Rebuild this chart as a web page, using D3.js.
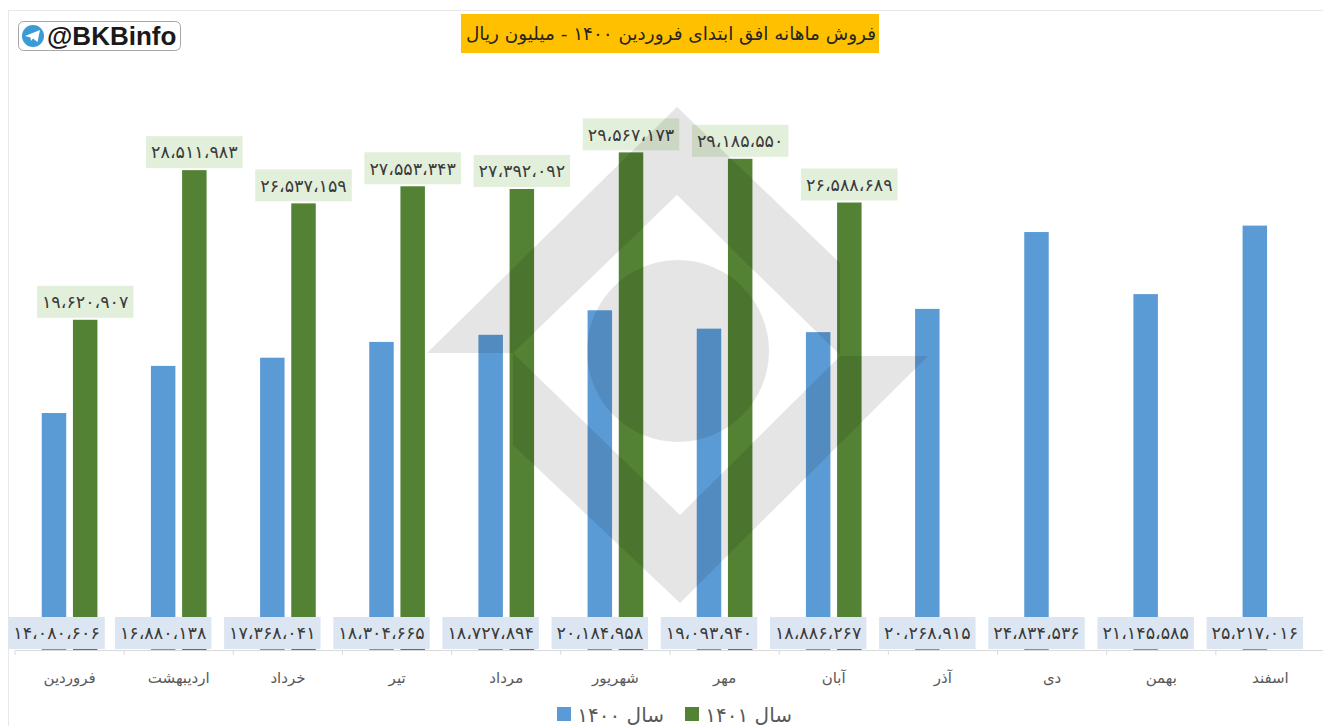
<!DOCTYPE html>
<html>
<head>
<meta charset="utf-8">
<script src="https://cdn.jsdelivr.net/npm/d3@7"></script>
<style>
  body { margin: 0; background: #fff; }
  svg { display: block; }
  text { font-family: "DejaVu Sans", sans-serif; }
</style>
</head>
<body>
<div id="chart"></div>
<script>
var svgWidth = 1323;
var svgHeight = 726;

var months = ["فروردین", "اردیبهشت", "خرداد", "تیر", "مرداد", "شهریور", "مهر", "آبان", "آذر", "دی", "بهمن", "اسفند"];
var sales1400 = [14080606, 16880138, 17368041, 18304665, 18727894, 20184958, 19093940, 18886267, 20268915, 24834536, 21145585, 25217016];
var sales1401 = [19620907, 28511983, 26537159, 27553343, 27392092, 29567173, 29185550, 26588689];
var seriesNames = ["سال ۱۴۰۰", "سال ۱۴۰۱"];
var seriesColors = ["#5b9bd5", "#548235"];
var labelColors = ["#dce6f2", "#e2efda"];
var title = "فروش ماهانه افق ابتدای فروردین ۱۴۰۰ - میلیون ریال";

var margin = { top: 10, right: -2, bottom: 76, left: 15 };
var baseline = svgHeight - margin.bottom;

var svg = d3.select("#chart").append("svg")
  .attr("width", svgWidth)
  .attr("height", svgHeight);

// persian digits with thousand separators
function faNumber(v) {
  return d3.format(",")(v).replace(/,/g, "\u060C").replace(/\d/g, d => "۰۱۲۳۴۵۶۷۸۹"[+d]);
}

var x0 = d3.scaleBand()
  .domain(months)
  .range([margin.left, svgWidth - margin.right])
  .paddingInner(0.49)
  .paddingOuter(0.245);

var x1 = d3.scaleBand()
  .domain([0, 1])
  .range([0, x0.bandwidth()])
  .paddingInner(0.215);

var y = d3.scaleLinear()
  .domain([0, 38000000])
  .range([baseline, baseline - 38 * 16.83]);

// frame
svg.append("path")
  .attr("d", `M8.5,${svgHeight} V10.5 H${svgWidth}`)
  .attr("fill", "none")
  .attr("stroke", "#e8e8e8");

// axis
var xAxis = svg.append("g")
  .attr("transform", `translate(0, ${baseline})`)
  .call(d3.axisBottom(x0).tickSize(0).tickPadding(22));
xAxis.select(".domain").attr("stroke", "#d9d9d9");
xAxis.selectAll("text")
  .attr("font-size", 15)
  .attr("fill", "#595959")
  .style("direction", "rtl");

svg.append("g")
  .selectAll("line")
  .data(d3.range(months.length + 1))
  .enter()
  .append("line")
  .attr("x1", d => margin.left + d * x0.step())
  .attr("x2", d => margin.left + d * x0.step())
  .attr("y1", baseline)
  .attr("y2", baseline + 5)
  .attr("stroke", "#d9d9d9");

// bars
var series = [sales1400, sales1401];
series.forEach(function(values, s) {
  svg.append("g")
    .selectAll("rect")
    .data(values)
    .enter()
    .append("rect")
    .attr("x", (d, i) => x0(months[i]) + x1(s))
    .attr("y", d => y(d))
    .attr("width", x1.bandwidth())
    .attr("height", d => baseline - y(d))
    .attr("fill", seriesColors[s]);
});

// data labels
var labelW = 96.5;
var labelH = 32;

var blueLabels = svg.append("g")
  .selectAll("g")
  .data(sales1400)
  .enter()
  .append("g")
  .attr("transform", (d, i) => {
    var cx = Math.max(x0(months[i]) + x1(0) + x1.bandwidth() / 2, 8.3 + labelW / 2);
    return `translate(${cx}, ${baseline - 1 - labelH / 2})`;
  });

var greenLabels = svg.append("g")
  .selectAll("g")
  .data(sales1401)
  .enter()
  .append("g")
  .attr("transform", (d, i) =>
    `translate(${x0(months[i]) + x1(1) + x1.bandwidth() / 2}, ${y(d) - 2 - labelH / 2})`);

[blueLabels, greenLabels].forEach(function(labels, s) {
  labels.append("rect")
    .attr("x", -labelW / 2)
    .attr("y", -labelH / 2)
    .attr("width", labelW)
    .attr("height", labelH)
    .attr("fill", labelColors[s]);
  labels.append("text")
    .attr("text-anchor", "middle")
    .attr("dy", "0.36em")
    .attr("font-size", 17.5)
    .attr("fill", "#3a3a3a")
    .style("direction", "ltr")
    .text(d => faNumber(d));
});

// watermark sits over the bars
var mark = svg.append("g")
  .attr("fill", "#000")
  .attr("fill-opacity", 0.1);
mark.append("path")
  .attr("d", "M427,353 L677,107 L840,263 L840,355 L677,195 L513,353 Z");
mark.append("path")
  .attr("d", "M928,356 L680,603 L513,445 L513,353 L680,515 L840,356 Z");
mark.append("circle")
  .attr("cx", 678)
  .attr("cy", 351)
  .attr("r", 91);

// title
svg.append("rect")
  .attr("x", 461)
  .attr("y", 14)
  .attr("width", 418)
  .attr("height", 39)
  .attr("fill", "#ffc000");
svg.append("text")
  .attr("x", 671)
  .attr("y", 40)
  .attr("text-anchor", "middle")
  .attr("font-size", 18.4)
  .attr("fill", "#262626")
  .style("direction", "rtl")
  .text(title);

// telegram badge
svg.append("rect")
  .attr("x", 18.5)
  .attr("y", 21.5)
  .attr("width", 162)
  .attr("height", 29)
  .attr("rx", 5)
  .attr("fill", "#fff")
  .attr("stroke", "#a6a6a6");
svg.append("circle")
  .attr("cx", 33)
  .attr("cy", 36)
  .attr("r", 11)
  .attr("fill", "#3a9bd5");
svg.append("path")
  .attr("d", "M25,36 L40,30 L37.5,42 L33,38.5 L31,41 L30.5,37.5 Z")
  .attr("fill", "#fff");
svg.append("text")
  .attr("x", 47)
  .attr("y", 45)
  .attr("font-size", 26)
  .attr("font-weight", "bold")
  .attr("fill", "#1a1a1a")
  .style("font-family", "'Liberation Sans', sans-serif")
  .text("@BKBinfo");

// legend
var legendItems = [
  { box: 557, text: 664 },
  { box: 685, text: 792 }
];
legendItems.forEach(function(item, s) {
  svg.append("rect")
    .attr("x", item.box)
    .attr("y", 707)
    .attr("width", 14)
    .attr("height", 14)
    .attr("fill", seriesColors[s]);
  svg.append("text")
    .attr("x", item.text)
    .attr("y", 722)
    .attr("text-anchor", "start")
    .attr("font-size", 20)
    .attr("fill", "#595959")
    .style("direction", "rtl")
    .text(seriesNames[s]);
});
</script>
</body>
</html>
